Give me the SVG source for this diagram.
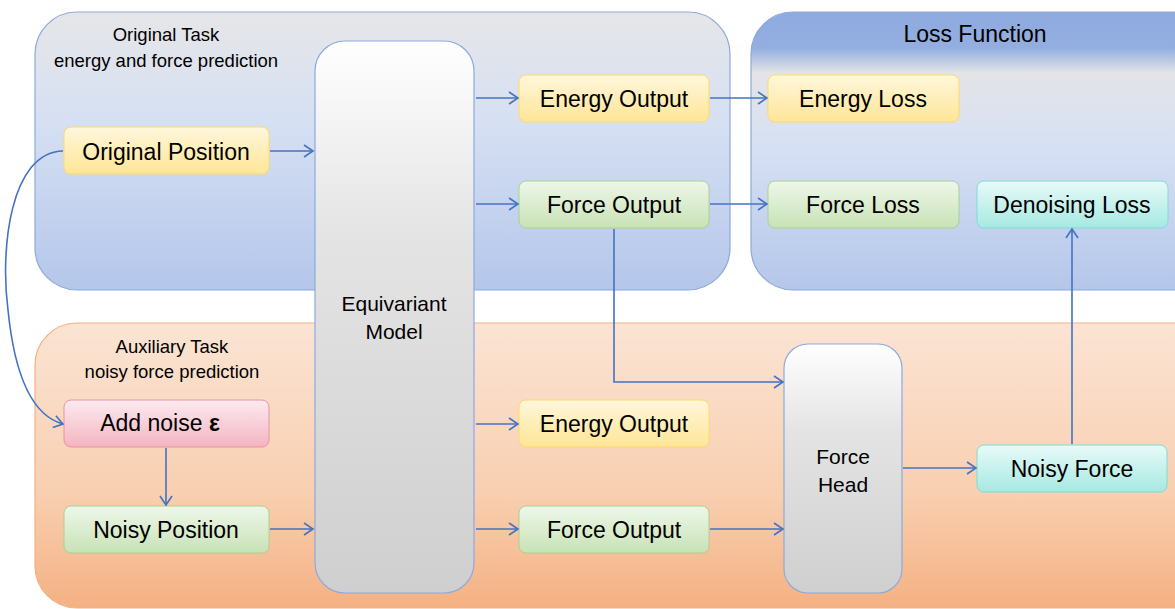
<svg xmlns="http://www.w3.org/2000/svg" width="1175" height="609" viewBox="0 0 1175 609">
<style>
text{font-family:"Liberation Sans",Arial,sans-serif;fill:#000;text-anchor:middle;dominant-baseline:central}
.lbl{font-size:23px}
.small{font-size:18.5px}
.mid{font-size:21px}
.title{font-size:23px}
.conn{fill:none;stroke:#4472c4;stroke-width:1.6;marker-end:url(#arr)}
</style>
<defs>
<linearGradient id="gBlue" x1="0" y1="0" x2="0" y2="1"><stop offset="0" stop-color="#e6e6e8"/><stop offset="0.4" stop-color="#d6e0f3"/><stop offset="1" stop-color="#b4c6ea"/></linearGradient>
<linearGradient id="gLoss" x1="0" y1="0" x2="0" y2="1"><stop offset="0" stop-color="#8eaadf"/><stop offset="0.13" stop-color="#94aee0"/><stop offset="0.22" stop-color="#e4e4e7"/><stop offset="0.5" stop-color="#d6e0f3"/><stop offset="1" stop-color="#b4c6ea"/></linearGradient>
<linearGradient id="gOr" x1="0" y1="0" x2="0" y2="1"><stop offset="0" stop-color="#fbe4d4"/><stop offset="0.6" stop-color="#f8cfb0"/><stop offset="1" stop-color="#f4b183"/></linearGradient>
<linearGradient id="gGray" x1="0" y1="0" x2="0" y2="1"><stop offset="0" stop-color="#ffffff"/><stop offset="0.35" stop-color="#e4e4e4"/><stop offset="1" stop-color="#cfcfd0"/></linearGradient>
<linearGradient id="gY" x1="0" y1="0" x2="0" y2="1"><stop offset="0" stop-color="#fff7dc"/><stop offset="1" stop-color="#ffe596"/></linearGradient>
<linearGradient id="gG" x1="0" y1="0" x2="0" y2="1"><stop offset="0" stop-color="#eef7e9"/><stop offset="1" stop-color="#c8e2b6"/></linearGradient>
<linearGradient id="gC" x1="0" y1="0" x2="0" y2="1"><stop offset="0" stop-color="#e8faf8"/><stop offset="1" stop-color="#a6e9e2"/></linearGradient>
<linearGradient id="gP" x1="0" y1="0" x2="0" y2="1"><stop offset="0" stop-color="#fdeaf0"/><stop offset="1" stop-color="#f3b5c1"/></linearGradient>
<marker id="arr" markerUnits="userSpaceOnUse" markerWidth="14" markerHeight="16" refX="11" refY="7" orient="auto"><path d="M2,1 L11,7 L2,13" fill="none" stroke="#4472c4" stroke-width="1.6"/></marker>
</defs>

<g id="panel-original">
<rect x="35" y="12" width="695" height="278" rx="42" fill="url(#gBlue)" stroke="#8eaadb" stroke-width="1.2"/>
<text class="small" x="166" y="34">Original Task</text>
<text class="small" x="166" y="60">energy and force prediction</text>
</g>
<g id="panel-loss">
<rect x="751" y="12" width="470" height="278" rx="42" fill="url(#gLoss)" stroke="#8eaadb" stroke-width="1.2"/>
<text class="title" x="975" y="34">Loss Function</text>
</g>
<g id="panel-aux">
<rect x="35" y="323" width="1186" height="285" rx="42" fill="url(#gOr)" stroke="#f4b183" stroke-width="1.2"/>
<text class="small" x="172" y="346">Auxiliary  Task</text>
<text class="small" x="172" y="371">noisy force prediction</text>
</g>

<g id="equivariant-model">
<rect x="315" y="41" width="159" height="552" rx="30" fill="url(#gGray)" stroke="#8eaadb" stroke-width="1.2"/>
<text class="mid" x="394" y="303">Equivariant</text>
<text class="mid" x="394" y="331">Model</text>
</g>
<g id="force-head">
<rect x="784" y="344" width="118" height="249" rx="24" fill="url(#gGray)" stroke="#8eaadb" stroke-width="1.2"/>
<text class="mid" x="843" y="456">Force</text>
<text class="mid" x="843" y="484">Head</text>
</g>

<g id="original-position"><rect x="64" y="127" width="205" height="47" rx="7" fill="url(#gY)" stroke="#ffd966"/><text class="lbl" x="166" y="152">Original Position</text></g>
<g id="energy-output-top"><rect x="519" y="75" width="190" height="47" rx="7" fill="url(#gY)" stroke="#ffd966"/><text class="lbl" x="614" y="99">Energy Output</text></g>
<g id="force-output-top"><rect x="519" y="181" width="190" height="47" rx="7" fill="url(#gG)" stroke="#a9d18e"/><text class="lbl" x="614" y="205">Force Output</text></g>
<g id="energy-loss"><rect x="768" y="75" width="191" height="47" rx="7" fill="url(#gY)" stroke="#ffd966"/><text class="lbl" x="863" y="99">Energy Loss</text></g>
<g id="force-loss"><rect x="768" y="181" width="191" height="47" rx="7" fill="url(#gG)" stroke="#a9d18e"/><text class="lbl" x="863" y="205">Force Loss</text></g>
<g id="denoising-loss"><rect x="977" y="181" width="191" height="47" rx="7" fill="url(#gC)" stroke="#7fdcd3"/><text class="lbl" x="1072" y="205">Denoising Loss</text></g>
<g id="add-noise"><rect x="64" y="400" width="205" height="47" rx="7" fill="url(#gP)" stroke="#ee90a2"/><text class="lbl" x="160" y="423">Add noise <tspan font-weight="bold">ε</tspan></text></g>
<g id="noisy-position"><rect x="64" y="506" width="205" height="47" rx="7" fill="url(#gG)" stroke="#a9d18e"/><text class="lbl" x="166" y="530">Noisy Position</text></g>
<g id="energy-output-bottom"><rect x="519" y="400" width="190" height="47" rx="7" fill="url(#gY)" stroke="#ffd966"/><text class="lbl" x="614" y="424">Energy Output</text></g>
<g id="force-output-bottom"><rect x="519" y="506" width="190" height="47" rx="7" fill="url(#gG)" stroke="#a9d18e"/><text class="lbl" x="614" y="530">Force Output</text></g>
<g id="noisy-force"><rect x="977" y="445" width="190" height="47" rx="7" fill="url(#gC)" stroke="#7fdcd3"/><text class="lbl" x="1072" y="469">Noisy Force</text></g>

<g id="connectors">
<path class="conn" d="M270,151 H313"/>
<path class="conn" d="M476,98 H518"/>
<path class="conn" d="M476,204 H518"/>
<path class="conn" d="M710,98 H767"/>
<path class="conn" d="M710,204 H767"/>
<path class="conn" d="M614,229 V382 H783"/>
<path class="conn" d="M1072,444 V229"/>
<path class="conn" d="M903,468 H976"/>
<path class="conn" d="M710,529 H783"/>
<path class="conn" d="M476,424 H518"/>
<path class="conn" d="M476,529 H518"/>
<path class="conn" d="M270,529 H313"/>
<path class="conn" d="M166,448 V505"/>
<path class="conn" d="M63,151 C10,152 0,250 8,310 C14,370 30,415 63,424"/>
</g>
</svg>
